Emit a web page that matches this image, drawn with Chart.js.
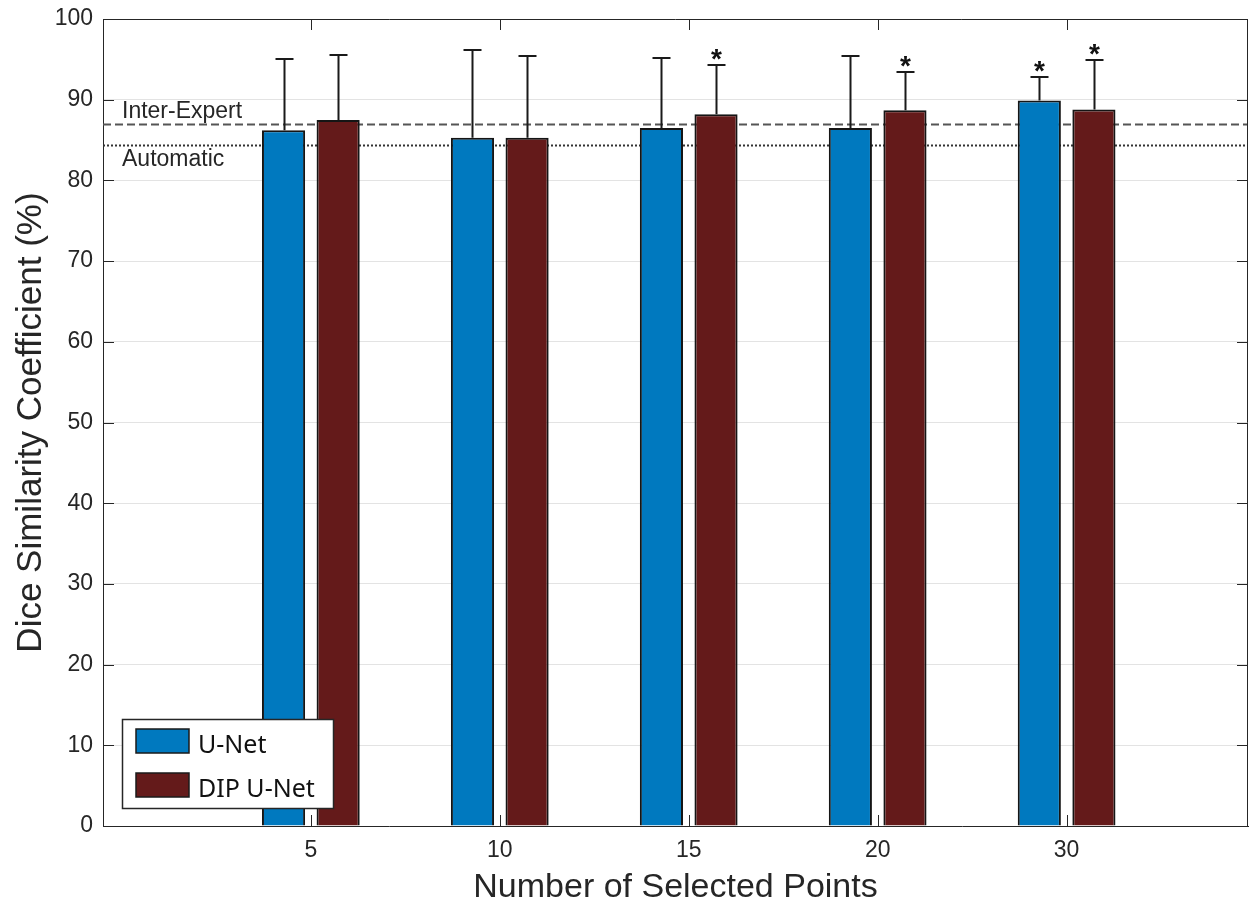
<!DOCTYPE html>
<html>
<head>
<meta charset="utf-8">
<script src="https://cdn.jsdelivr.net/npm/chart.js@4.4.1/dist/chart.umd.min.js"></script>
<style>
  html, body { margin: 0; padding: 0; background: #ffffff; }
  #wrap { width: 1259px; height: 908px; }
</style>
</head>
<body>
<div id="wrap"><canvas id="c" width="1259" height="908"></canvas></div>
<script>
// ---- data ----
const categories = ['5', '10', '15', '20', '30'];
const unetMean = [86.2, 85.3, 86.5, 86.5, 89.9];
const unetErr  = [8.9, 10.8, 8.7, 8.9, 2.9];
const dipMean  = [87.5, 85.3, 88.2, 88.7, 88.8];
const dipErr   = [8.1, 10.1, 6.1, 4.7, 6.1];
const unetSig  = [false, false, false, false, true];
const dipSig   = [false, false, true, true, true];
const interExpert = 87.0;
const automatic = 84.4;
const seriesNames = ['U-Net', 'DIP U-Net'];
const yTicks = [0, 10, 20, 30, 40, 50, 60, 70, 80, 90, 100];

const TXT = '#262626';
const SANS = '"Liberation Sans", Arial, Helvetica, sans-serif';

const toXY = arr => arr.map((v, i) => ({ x: i + 1, y: v }));

const overlayPlugin = {
  id: 'overlay',
  beforeDatasetsDraw(chart) {
    const { ctx, chartArea: a, scales: { y } } = chart;
    ctx.save();
    let py = Math.round(y.getPixelForValue(interExpert)) + 0.5;
    ctx.strokeStyle = '#555555';
    ctx.lineWidth = 2;
    ctx.setLineDash([8, 4]);
    ctx.beginPath(); ctx.moveTo(a.left, py); ctx.lineTo(a.right, py); ctx.stroke();
    py = Math.round(y.getPixelForValue(automatic)) + 0.5;
    ctx.strokeStyle = '#333333';
    ctx.setLineDash([2, 2]);
    ctx.beginPath(); ctx.moveTo(a.left, py); ctx.lineTo(a.right, py); ctx.stroke();
    ctx.setLineDash([]);
    ctx.fillStyle = TXT;
    ctx.font = '23px ' + SANS;
    ctx.textAlign = 'left';
    ctx.textBaseline = 'alphabetic';
    ctx.fillText('Inter-Expert', a.left + 19, y.getPixelForValue(interExpert) - 6);
    ctx.fillText('Automatic', a.left + 19, y.getPixelForValue(automatic) + 21);
    ctx.restore();
  },
  afterDatasetsDraw(chart) {
    const { ctx, chartArea: a, scales: { x, y } } = chart;
    ctx.save();
    const errs = [unetErr, dipErr];
    const sigs = [unetSig, dipSig];
    const means = [unetMean, dipMean];
    for (let d = 0; d < 2; d++) {
      const meta = chart.getDatasetMeta(d);
      meta.data.forEach((bar, i) => {
        const cx = Math.round(bar.x) + 0.5;
        const top = y.getPixelForValue(means[d][i]);
        const ey = Math.round(y.getPixelForValue(means[d][i] + errs[d][i]));
        ctx.strokeStyle = '#1a1a1a';
        ctx.lineWidth = 2;
        ctx.beginPath();
        ctx.moveTo(cx, top); ctx.lineTo(cx, ey);
        ctx.moveTo(cx - 9, ey); ctx.lineTo(cx + 9, ey);
        ctx.stroke();
        if (sigs[d][i]) {
          ctx.fillStyle = '#111111';
          ctx.font = 'bold 28px ' + SANS;
          ctx.textAlign = 'center';
          ctx.textBaseline = 'alphabetic';
          ctx.fillText('*', cx, ey + 3);
        }
      });
    }
    ctx.strokeStyle = TXT;
    ctx.lineWidth = 1;
    ctx.beginPath();
    ctx.moveTo(a.left, a.top + 0.5); ctx.lineTo(a.right, a.top + 0.5);
    ctx.moveTo(a.right - 0.5, a.top); ctx.lineTo(a.right - 0.5, a.bottom);
    ctx.stroke();
    ctx.beginPath();
    yTicks.forEach(v => {
      const py = Math.round(y.getPixelForValue(v)) + 0.5;
      ctx.moveTo(a.left, py); ctx.lineTo(a.left + 11, py);
      ctx.moveTo(a.right, py); ctx.lineTo(a.right - 11, py);
    });
    categories.forEach((c, i) => {
      const px = Math.round(x.getPixelForValue(i + 1)) + 0.5;
      ctx.moveTo(px, a.top); ctx.lineTo(px, a.top + 11);
      ctx.moveTo(px, a.bottom); ctx.lineTo(px, a.bottom - 11);
    });
    ctx.stroke();
    ctx.restore();
  },
  afterDraw(chart) {
    const { ctx, chartArea: a } = chart;
    ctx.save();
    const bx = a.left + 19, by = a.bottom - 107, bw = 211, bh = 89;
    ctx.fillStyle = '#ffffff';
    ctx.fillRect(bx, by, bw, bh);
    ctx.strokeStyle = '#262626';
    ctx.lineWidth = 1.5;
    ctx.strokeRect(bx + 0.5, by + 0.5, bw, bh);
    chart.data.datasets.forEach((ds, i) => {
      const sy = by + 10 + i * 44;
      ctx.fillStyle = ds.backgroundColor;
      ctx.fillRect(bx + 14, sy, 53, 24);
      ctx.strokeStyle = '#1a1a1a';
      ctx.lineWidth = 1.5;
      ctx.strokeRect(bx + 14, sy, 53, 24);
      ctx.fillStyle = '#111111';
      ctx.font = '25px "Noto Sans", "Open Sans", sans-serif';
      ctx.textAlign = 'left';
      ctx.textBaseline = 'alphabetic';
      ctx.fillText(ds.label, bx + 76, sy + 24);
    });
    ctx.restore();
  }
};

new Chart(document.getElementById('c'), {
  type: 'bar',
  data: {
    datasets: [
      { label: seriesNames[0], data: toXY(unetMean), backgroundColor: '#0079BF', borderColor: '#151515', borderWidth: 2 },
      { label: seriesNames[1], data: toXY(dipMean), backgroundColor: '#641A1A', borderColor: '#151515', borderWidth: 2 }
    ]
  },
  options: {
    responsive: false,
    animation: false,
    devicePixelRatio: 1,
    categoryPercentage: 0.578,
    barPercentage: 0.79,
    layout: { padding: { top: 19, right: 11, left: 0, bottom: 0 } },
    plugins: { legend: { display: false }, tooltip: { enabled: false } },
    scales: {
      x: {
        type: 'linear',
        min: -0.1,
        max: 5.96,
        offset: false,
        afterFit(s) { s.height = 82; s.paddingLeft = 0; s.paddingRight = 0; },
        afterBuildTicks(s) { s.ticks = categories.map((c, i) => ({ value: i + 1 })); },
        grid: { display: false, drawTicks: false },
        border: { display: true, color: TXT, width: 1 },
        ticks: {
          autoSkip: false,
          maxRotation: 0,
          padding: 11,
          color: TXT,
          font: { family: SANS, size: 23 },
          callback: (v) => categories[Math.round(v) - 1] || ''
        },
        title: {
          display: true,
          text: 'Number of Selected Points',
          color: TXT,
          font: { family: SANS, size: 34 },
          padding: { top: 0, bottom: 0 }
        }
      },
      y: {
        min: 0,
        max: 100,
        afterFit(s) { s.width = 103; s.paddingTop = 0; s.paddingBottom = 0; },
        afterBuildTicks(s) { s.ticks = yTicks.map(v => ({ value: v })); },
        grid: { color: '#e3e3e3', lineWidth: 1, drawTicks: false },
        border: { display: true, color: TXT, width: 1 },
        ticks: {
          padding: 10,
          color: TXT,
          font: { family: SANS, size: 23 }
        },
        title: {
          display: true,
          text: 'Dice Similarity Coefficient (%)',
          color: TXT,
          font: { family: SANS, size: 35 },
          padding: { top: 10, bottom: 0 }
        }
      }
    }
  },
  plugins: [overlayPlugin]
});
</script>
</body>
</html>
